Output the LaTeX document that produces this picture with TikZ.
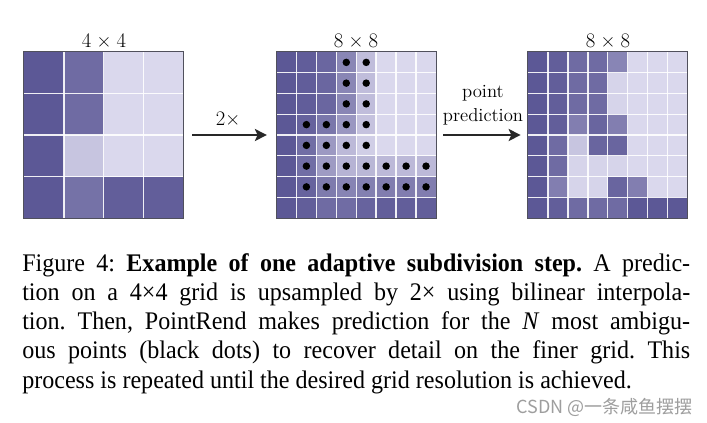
\documentclass[tikz,border=0pt]{standalone}
\usepackage{fontspec}
\newfontfamily\capfont[FakeStretch=0.95]{Liberation Serif}
\newfontfamily\cjkfont{Noto Sans CJK SC}
\usetikzlibrary{arrows.meta}
\definecolor{dk}{RGB}{92,88,150}
\definecolor{lt}{RGB}{218,216,237}
\definecolor{bord}{RGB}{80,80,92}
\definecolor{arrc}{RGB}{40,40,40}
\newcommand\pgrid[4]{% #1 x0, #2 n, #3 name, #4 rows of darkness values
  \foreach \rowvals [count=\rr from 0] in {#4} {
    \foreach \v [count=\cc from 0] in \rowvals {
      \fill[dk!\v!lt] ({#1+\cc*159.5/#2},{52+\rr*166/#2}) rectangle ({#1+(\cc+1)*159.5/#2},{52+(\rr+1)*166/#2});
    }
  }
  \pgfmathtruncatemacro\nm{#2-1}
  \foreach \i in {1,...,\nm} {
    \draw[gline] ({#1+\i*159.5/#2},52) -- ++(0,166);
    \draw[gline] (#1,{52+\i*166/#2}) -- ++(159.5,0);
  }
  \node[gridbox] (#3) at ({#1+79.75},135) {};
  \draw[bord, line width=0.8pt] (#3.north west) rectangle (#3.south east);
}
\begin{document}
\begin{tikzpicture}[x=0.75pt,y=-0.75pt,
  gridbox/.style={draw=none, inner sep=0pt, minimum width=119.625pt, minimum height=124.5pt},
  gline/.style={white, line width=1.1pt, opacity=0.9},
  arr/.style={draw=arrc, line width=1.6pt, -{Stealth[length=9pt,width=9pt,inset=2pt]}},
  lab/.style={font=\fontsize{14}{18}\selectfont, inner sep=0pt},
  ttl/.style={font=\fontsize{15.5}{18}\selectfont, inner sep=0pt},
  capline/.style={anchor=base west, inner sep=0pt, font=\capfont\fontsize{19}{22}\selectfont\frenchspacing},
  dotc/.style={fill=black}
]
\useasboundingbox (0,0) rectangle (707,422);
\fill[white] (0,0) rectangle (707,422);

% grid 1: 4x4
\pgrid{24}{4}{g1}{{100,85,0,0},{100,85,0,0},{100,15,0,0},{100,80,95,95}}
% grid 2: 8x8 upsampled
\pgrid{276.5}{8}{g2}{{100,96,89,64,21,0,0,0},{100,96,89,64,21,0,0,0},{100,96,89,64,21,0,0,0},{100,92,76,51,17,0,0,0},{100,83,49,24,8,0,0,0},{100,83,48,29,26,24,24,24},{100,91,73,66,69,71,71,71},{100,95,85,84,91,95,95,95}}
% grid 3: 8x8 refined
\pgrid{528}{8}{g3}{{100,95,85,85,65,0,0,0},{100,95,85,85,3,0,0,0},{100,95,85,85,3,0,0,0},{100,95,70,90,70,0,0,0},{100,85,15,90,90,0,0,0},{100,85,3,3,3,0,0,0},{100,70,3,3,90,70,0,0},{100,95,85,85,85,100,100,100}}

% ambiguous points
\foreach \rr in {0,1,2} \foreach \cc in {3,4}
  \fill[dotc] ({276.5+(\cc+0.5)*19.9375},{52+(\rr+0.5)*20.75}) circle (2.8pt);
\foreach \rr in {3,4} \foreach \cc in {1,...,4}
  \fill[dotc] ({276.5+(\cc+0.5)*19.9375},{52+(\rr+0.5)*20.75}) circle (2.8pt);
\foreach \rr in {5,6} \foreach \cc in {1,...,7}
  \fill[dotc] ({276.5+(\cc+0.5)*19.9375},{52+(\rr+0.5)*20.75}) circle (2.8pt);

% titles
\node[ttl] (t1) at (104,41) {4\hspace{.25em}×\hspace{.25em}4};
\node[ttl] (t2) at (356,41) {8\hspace{.25em}×\hspace{.25em}8};
\node[ttl] (t3) at (608,41) {8\hspace{.25em}×\hspace{.25em}8};

% arrows
\draw[arr, shorten <=6.4pt, shorten >=7pt] (g1.east) -- (g2.west);
\draw[arr, shorten <=5.3pt, shorten >=5.3pt] (g2.east) -- (g3.west);
\node[ttl] (l1) at (228,119) {2×};
\node[lab, align=center] (l2) at (483,105) {point\\prediction};

% caption
\node[capline] (c1) at (22,271) {\makebox[501pt][s]{Figure 4: \textbf{Example of one adaptive subdivision step.} A predic-}};
\node[capline] (c2) at (22,300.3) {\makebox[501pt][s]{tion on a 4×4 grid is upsampled by 2× using bilinear interpola-}};
\node[capline] (c3) at (22,329.6) {\makebox[501pt][s]{tion. Then, PointRend makes prediction for the \textit{N} most ambigu-}};
\node[capline] (c4) at (22,358.9) {\makebox[501pt][s]{ous points (black dots) to recover detail on the finer grid. This}};
\node[capline] (c5) at (22,388.2) {process is repeated until the desired grid resolution is achieved.};

% watermark
\node[anchor=base east, text=black!38, font=\cjkfont\fontsize{13.5}{16}\selectfont, inner sep=0pt] (wm) at (693,413) {CSDN @一条咸鱼摆摆};
\end{tikzpicture}
\end{document}
